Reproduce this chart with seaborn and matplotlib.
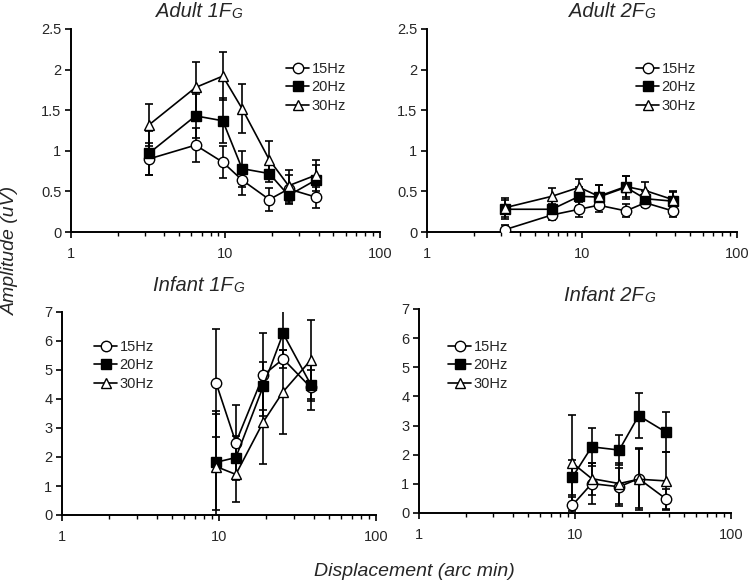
import numpy as np
import pandas as pd
import matplotlib
matplotlib.use('Agg')
import matplotlib.pyplot as plt
import seaborn as sns

# displacement values (arc min)
adult_x = [3.2, 6.4, 9.6, 12.8, 19.2, 25.6, 38.4]
infant_x = [9.6, 12.8, 19.2, 25.6, 38.4]
freqs = ['15Hz', '20Hz', '30Hz']

# Adult 1F
a1_15 = [0.90, 1.07, 0.86, 0.64, 0.40, 0.53, 0.43]
a1_15_err = [0.20, 0.21, 0.20, 0.18, 0.14, 0.17, 0.13]
a1_20 = [0.97, 1.43, 1.37, 0.78, 0.72, 0.45, 0.64]
a1_20_err = [0.27, 0.27, 0.28, 0.22, 0.10, 0.11, 0.18]
a1_30 = [1.32, 1.78, 1.92, 1.52, 0.89, 0.57, 0.70]
a1_30_err = [0.26, 0.31, 0.30, 0.30, 0.23, 0.19, 0.19]

# Adult 2F
a2_15 = [0.03, 0.21, 0.28, 0.33, 0.26, 0.36, 0.26]
a2_15_err = [0.06, 0.06, 0.09, 0.08, 0.08, 0.05, 0.07]
a2_20 = [0.28, 0.28, 0.44, 0.43, 0.55, 0.41, 0.38]
a2_20_err = [0.12, 0.10, 0.12, 0.15, 0.14, 0.10, 0.11]
a2_30 = [0.30, 0.44, 0.55, 0.44, 0.56, 0.51, 0.40]
a2_30_err = [0.12, 0.10, 0.10, 0.14, 0.13, 0.10, 0.10]

# Infant 1F
i1_15 = [4.54, 2.50, 4.83, 5.38, 4.40]
i1_15_err = [1.86, 1.30, 1.43, 0.30, 0.78]
i1_20 = [1.82, 1.98, 4.46, 6.26, 4.50]
i1_20_err = [1.65, 0.75, 0.83, 1.02, 0.50]
i1_30 = [1.67, 1.40, 3.22, 4.25, 5.34]
i1_30_err = [1.90, 0.94, 1.46, 1.45, 1.40]

# Infant 2F
i2_15 = [0.26, 1.01, 0.90, 1.18, 0.48]
i2_15_err = [0.30, 0.70, 0.65, 1.00, 0.35]
i2_20 = [1.22, 2.27, 2.16, 3.34, 2.77]
i2_20_err = [0.60, 0.66, 0.50, 0.77, 0.69]
i2_30 = [1.72, 1.18, 1.01, 1.16, 1.10]
i2_30_err = [1.65, 0.55, 0.70, 1.06, 1.00]

sns.set_style('ticks')
plt.rcParams['font.family'] = ['Liberation Sans', 'DejaVu Sans']

W, H = 750, 583
fig = plt.figure(figsize=(7.5, 5.83), dpi=100)

def box(l, r, t, b):
    return [l / W, 1 - b / H, (r - l) / W, (b - t) / H]

panels = [
    dict(rect=box(71, 380, 29, 232), x=adult_x,
         ys=[a1_15, a1_20, a1_30], es=[a1_15_err, a1_20_err, a1_30_err],
         ymax=2.5, yticks=[0, 0.5, 1, 1.5, 2, 2.5], leg=(286, 62),
         title='Adult 1F', tpos=(231, 17)),
    dict(rect=box(427, 737, 29, 232), x=adult_x,
         ys=[a2_15, a2_20, a2_30], es=[a2_15_err, a2_20_err, a2_30_err],
         ymax=2.5, yticks=[0, 0.5, 1, 1.5, 2, 2.5], leg=(636, 62),
         title='Adult 2F', tpos=(644, 17)),
    dict(rect=box(62, 376, 312, 515), x=infant_x,
         ys=[i1_15, i1_20, i1_30], es=[i1_15_err, i1_20_err, i1_30_err],
         ymax=7, yticks=list(range(8)), leg=(94, 340),
         title='Infant 1F', tpos=(233, 291)),
    dict(rect=box(419, 731, 309, 513), x=infant_x,
         ys=[i2_15, i2_20, i2_30], es=[i2_15_err, i2_20_err, i2_30_err],
         ymax=7, yticks=list(range(8)), leg=(448, 340),
         title='Infant 2F', tpos=(644, 301)),
]

markers = ['o', 's', '^']
faces = ['white', 'black', 'white']

for p in panels:
    ax = fig.add_axes(p['rect'])
    for f, m, fc, y, e in zip(freqs, markers, faces, p['ys'], p['es']):
        df = pd.DataFrame({'x': p['x'], 'y': y})
        ax.errorbar(df['x'], df['y'], yerr=e, fmt='none', ecolor='black',
                    elinewidth=1.2, capsize=3, capthick=1.2, zorder=2)
        sns.lineplot(data=df, x='x', y='y', ax=ax, color='black', marker=m,
                     markerfacecolor=fc, markeredgecolor='black', markersize=7.5,
                     markeredgewidth=1.0, linewidth=1.2, label=f, zorder=3)
    ax.set_xscale('log')
    ax.set_xlim(1, 100)
    ax.set_ylim(0, p['ymax'])
    ax.set_xticks([1, 10, 100])
    ax.set_xticklabels(['1', '10', '100'])
    ax.set_yticks(p['yticks'])
    ax.set_yticklabels([('%g' % v) for v in p['yticks']])
    ax.set_xlabel('')
    ax.set_ylabel('')
    ax.tick_params(axis='both', which='major', labelsize=10.5, length=4, width=1.2, color='black')
    ax.tick_params(axis='y', which='major', pad=3)
    ax.tick_params(axis='x', which='major', pad=7)
    ax.tick_params(axis='x', which='minor', length=3, width=1.0, color='black')
    for s in ['left', 'bottom']:
        ax.spines[s].set_linewidth(1.4)
        ax.spines[s].set_color('black')
    sns.despine(ax=ax)
    lx, ly = p['leg']
    ax.legend(loc='upper left', bbox_to_anchor=(lx / W, 1 - ly / H),
              bbox_transform=fig.transFigure, frameon=False, fontsize=10.5,
              handlelength=1.6, handletextpad=0.15, labelspacing=0.3,
              borderpad=0, borderaxespad=0)
    tx, ty = p['tpos']
    fig.text(tx / W, 1 - ty / H, p['title'], ha='right', va='baseline',
             fontsize=14.5, style='italic')
    fig.text((tx + 0.5) / W, 1 - (ty + 1.5) / H, 'G', ha='left', va='baseline',
             fontsize=10, style='italic')

fig.text(10 / W, 1 - 250 / H, 'Amplitude (uV)', rotation=90, ha='center', va='center',
         fontsize=14, style='italic')
fig.text(414 / W, 1 - 571 / H, 'Displacement (arc min)', ha='center', va='center',
         fontsize=14, style='italic')

fig.savefig('out.png', dpi=100)
